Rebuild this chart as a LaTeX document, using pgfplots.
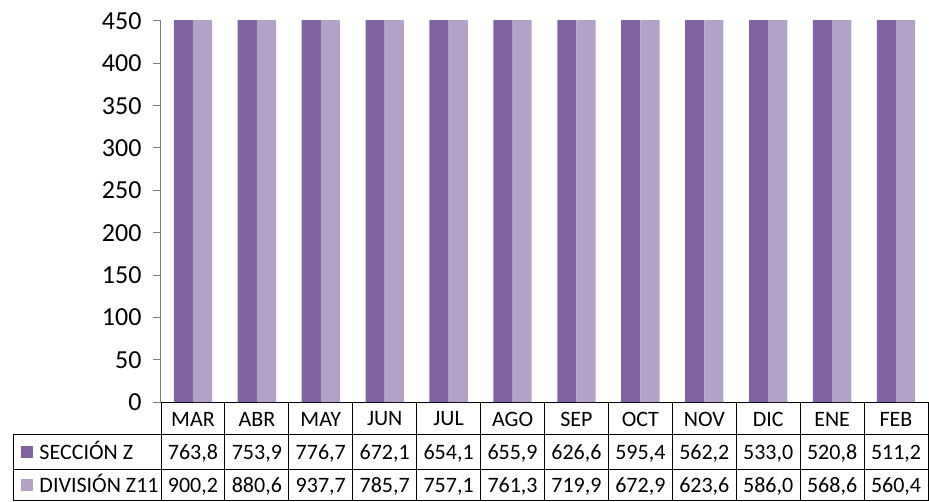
\documentclass[border=0pt]{standalone}
\usepackage{pgfplots}
\pgfplotsset{compat=1.18}
\usepackage{fontspec}
\setmainfont{Carlito}
\definecolor{secz}{HTML}{8064A2}
\definecolor{divz}{HTML}{B3A2C7}
\definecolor{axisgray}{HTML}{7F7F7F}

\begin{document}
\begin{tikzpicture}
\begin{axis}[
  name=a,
  scale only axis,
  width=767pt, height=381pt,
  xmin=-0.5, xmax=11.5,
  ymin=0, ymax=450,
  ybar=0pt, bar width=0.30,
  axis x line*=bottom, axis y line*=left,
  x axis line style={line width=1pt, black},
  y axis line style={line width=1pt, axisgray},
  xtick={0,...,11},
  xticklabels={MAR,ABR,MAY,JUN,JUL,AGO,SEP,OCT,NOV,DIC,ENE,FEB},
  x tick style={draw=none},
  x tick label style={anchor=center, yshift=-9pt, font=\fontsize{22}{24}\selectfont},
  ytick={0,50,...,450},
  tick align=outside,
  major tick length=8pt,
  y tick style={line width=1pt, axisgray},
  y tick label style={font=\fontsize{26}{28}\selectfont, xshift=-8pt},
  /pgf/number format/assume math mode=true,
]
\addplot[fill=secz, draw=none] coordinates {
 (0,763.8)(1,753.9)(2,776.7)(3,672.1)(4,654.1)(5,655.9)(6,626.6)(7,595.4)(8,562.2)(9,533.0)(10,520.8)(11,511.2)
};
\addplot[fill=divz, draw=none] coordinates {
 (0,900.2)(1,880.6)(2,937.7)(3,785.7)(4,757.1)(5,761.3)(6,719.9)(7,672.9)(8,623.6)(9,586.0)(10,568.6)(11,560.4)
};
\end{axis}

% data table under the axis (pixel-like units, y downwards)
\begin{scope}[shift={(a.south west)}, x=1pt, y=-1pt, line width=1pt,
  every node/.style={font=\fontsize{22}{24}\selectfont, inner sep=0pt}]
  \path[use as bounding box] (-161,-402) rectangle (768,99);
  \foreach \k in {0,...,12}
    \draw ({\k*767/12},0) -- ({\k*767/12},99);
  \draw (-147,32) -- (-147,99);
  \draw (-147,32) -- (767,32);
  \draw (-147,67) -- (767,67);
  \draw (-147,98.5) -- (767,98.5);
  \fill[secz] (-140,43.5) rectangle (-128,55.5);
  \fill[divz] (-140,77) rectangle (-128,89);
  \node[anchor=base west] at (-122,57) {SECCIÓN Z};
  \node[anchor=base west] at (-122,90.5) {DIVISIÓN Z11};
  \foreach \v [count=\i from 0] in {{763,8},{753,9},{776,7},{672,1},{654,1},{655,9},{626,6},{595,4},{562,2},{533,0},{520,8},{511,2}}
    \node[anchor=base] at ({(\i+0.5)*767/12},57) {\v};
  \foreach \v [count=\i from 0] in {{900,2},{880,6},{937,7},{785,7},{757,1},{761,3},{719,9},{672,9},{623,6},{586,0},{568,6},{560,4}}
    \node[anchor=base] at ({(\i+0.5)*767/12},90.5) {\v};
\end{scope}
\end{tikzpicture}
\end{document}
